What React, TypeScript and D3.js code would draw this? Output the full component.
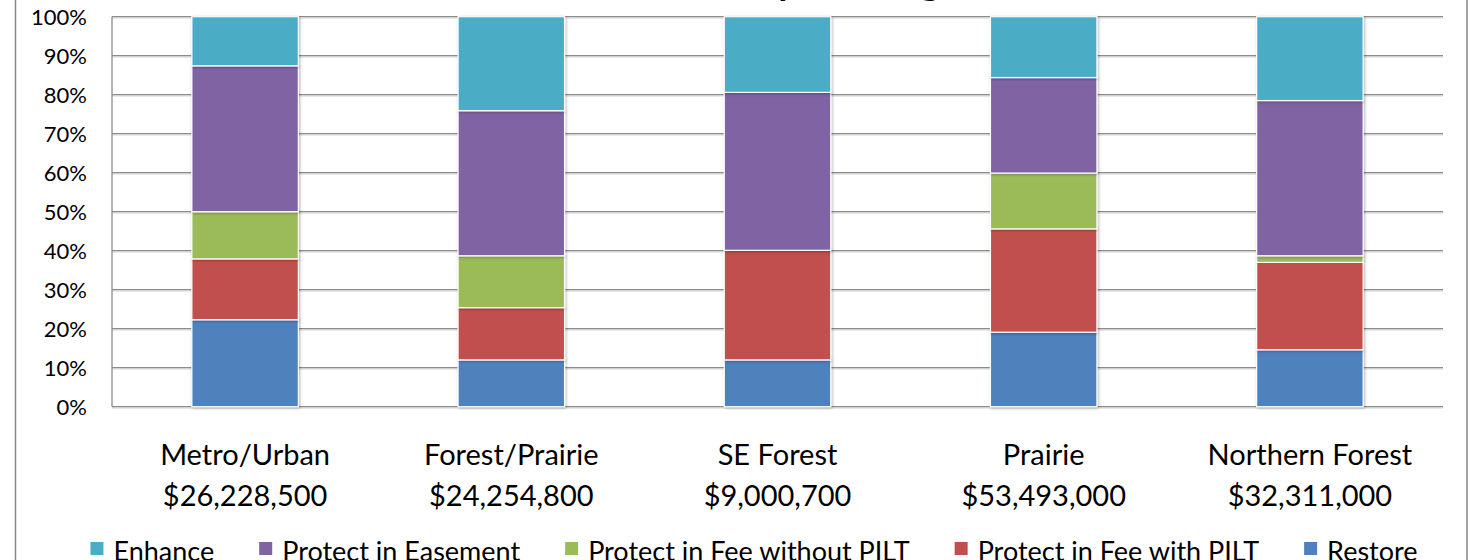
import React, { useEffect, useRef } from "react";
import * as d3 from "d3";

// regions (x axis) and their total dollars
const regions = ["Metro/Urban", "Forest/Prairie", "SE Forest", "Prairie", "Northern Forest"];
const totals = ["$26,228,500", "$24,254,800", "$9,000,700", "$53,493,000", "$32,311,000"];

// share of each activity per region, in percent
const restore = [22.3, 12.0, 12.0, 19.1, 14.6];
const feeWithPilt = [15.6, 13.4, 28.1, 26.5, 22.4];
const feeWithoutPilt = [12.1, 13.3, 0, 14.3, 1.7];
const easement = [37.4, 37.2, 40.5, 24.5, 39.8];
const enhance = [12.6, 24.1, 19.4, 15.6, 21.5];

// stacking order, bottom to top
const seriesKeys = ["Restore", "Protect in Fee with PILT", "Protect in Fee without PILT", "Protect in Easement", "Enhance"];
const seriesColors = ["#4F81BD", "#C0504D", "#9BBB59", "#8064A2", "#4BACC6"];

const yTicks = [0, 0.1, 0.2, 0.3, 0.4, 0.5, 0.6, 0.7, 0.8, 0.9, 1];

// only the descenders of the title show at the top edge
const title = "Percent of Activity Funding";

function App() {
  const ref = useRef<SVGSVGElement>(null);

  useEffect(() => {
    const width = 1469,
      height = 560;
    const left = 112,
      right = 1443,
      top = 16.7,
      bottom = 406.7;
    const font = "Lato, 'Open Sans', sans-serif";

    const svg = d3.select(ref.current);
    svg.selectAll("*").remove();
    svg.attr("width", width).attr("height", height);

    // soft shadow behind the bars
    const defs = svg.append("defs");
    defs.append("filter")
      .attr("id", "barShadow")
      .attr("x", "-20%").attr("y", "-5%").attr("width", "140%").attr("height", "110%")
      .append("feDropShadow")
      .attr("dx", 1).attr("dy", 1)
      .attr("stdDeviation", 1.6)
      .attr("flood-color", "#000")
      .attr("flood-opacity", 0.3);

    svg.append("rect").attr("width", width).attr("height", height).attr("fill", "#fff");

    // table for d3.stack
    const values = [restore, feeWithPilt, feeWithoutPilt, easement, enhance];
    const table = regions.map((r, i) => {
      const row: any = { region: r };
      seriesKeys.forEach((k, j) => (row[k] = values[j][i]));
      return row;
    });
    const stacked = d3.stack().keys(seriesKeys).offset(d3.stackOffsetExpand)(table);

    const x = d3.scaleBand().domain(regions).range([left, right]).paddingInner(0.6).paddingOuter(0.3);
    const y = d3.scaleLinear().domain([0, 1]).range([bottom, top]);
    const color = d3.scaleOrdinal<string>().domain(seriesKeys).range(seriesColors);

    // title, almost all above the visible frame
    svg.append("text")
      .attr("x", 482)
      .attr("y", -5)
      .style("font-family", font)
      .style("font-weight", "bold")
      .style("font-size", "38px")
      .text(title);

    // chart frame (left and right edges only are visible)
    svg.append("line").attr("x1", 15.5).attr("x2", 15.5).attr("y1", 0).attr("y2", height)
      .attr("stroke", "#868686").attr("stroke-width", 1.5);
    svg.append("line").attr("x1", 1467).attr("x2", 1467).attr("y1", 0).attr("y2", height)
      .attr("stroke", "#868686").attr("stroke-width", 1.5);

    // gridlines
    const grid = svg.append("g");
    grid.selectAll("line.shadow")
      .data(yTicks)
      .join("line")
      .attr("class", "shadow")
      .attr("x1", left).attr("x2", right)
      .attr("y1", (d) => y(d) + 1.3).attr("y2", (d) => y(d) + 1.3)
      .attr("stroke", "#d4d4d4").attr("stroke-width", 1);
    grid.selectAll("line.main")
      .data(yTicks)
      .join("line")
      .attr("class", "main")
      .attr("x1", left).attr("x2", right)
      .attr("y1", (d) => y(d)).attr("y2", (d) => y(d))
      .attr("stroke", "#8c8c8c").attr("stroke-width", 1.3);

    // value axis line
    svg.append("line").attr("x1", left).attr("x2", left).attr("y1", top).attr("y2", bottom)
      .attr("stroke", "#8c8c8c").attr("stroke-width", 1.3);

    // y tick labels
    svg.append("g")
      .selectAll("text")
      .data(yTicks)
      .join("text")
      .attr("x", 87)
      .attr("y", (d) => y(d))
      .attr("dy", "0.36em")
      .attr("text-anchor", "end")
      .style("font-family", font)
      .style("font-size", "22px")
      .attr("fill", "#000")
      .text((d) => d3.format(".0%")(d));

    // stacked bars
    svg.append("g")
      .selectAll("g")
      .data(stacked)
      .join("g")
      .attr("fill", (d) => color(d.key))
      .selectAll("rect")
      .data((d) => d.filter((p) => p[1] - p[0] > 0))
      .join("rect")
      .attr("x", (d: any) => x(d.data.region)!)
      .attr("width", x.bandwidth())
      .attr("y", (d) => y(d[1]))
      .attr("height", (d) => y(d[0]) - y(d[1]))
      .attr("stroke", "#fff")
      .attr("stroke-width", 1.2)
      .attr("filter", "url(#barShadow)");

    // category labels (two lines)
    const cat = svg.append("g")
      .selectAll("text")
      .data(regions)
      .join("text")
      .attr("text-anchor", "middle")
      .style("font-family", font)
      .style("font-size", "29px")
      .attr("fill", "#000");
    cat.append("tspan")
      .attr("x", (d) => x(d)! + x.bandwidth() / 2)
      .attr("y", 465)
      .text((d) => d);
    cat.append("tspan")
      .attr("x", (d) => x(d)! + x.bandwidth() / 2)
      .attr("y", 506)
      .text((d, i) => totals[i]);

    // legend, in reverse stack order, laid out by measured text width
    const legendKeys = seriesKeys.slice().reverse();
    const legend = svg.append("g");
    const items = legend.selectAll("g")
      .data(legendKeys)
      .join("g");
    items.append("rect")
      .attr("width", 13).attr("height", 13)
      .attr("y", 542)
      .attr("fill", (d) => color(d));
    items.append("text")
      .attr("x", 23)
      .attr("y", 561)
      .style("font-family", font)
      .style("font-size", "27px")
      .attr("fill", "#000")
      .text((d) => d);

    const gap = 45;
    const widths: number[] = [];
    items.each(function () {
      const t = d3.select(this).select("text").node() as SVGTextElement;
      widths.push(23 + t.getComputedTextLength());
    });
    const total = d3.sum(widths) + gap * (widths.length - 1);
    let cursor = 754 - total / 2;
    items.attr("transform", (d, i) => {
      const pos = cursor;
      cursor += widths[i] + gap;
      return `translate(${pos},0)`;
    });
  }, []);

  return (
    <div>
      <svg ref={ref} style={{ position: "absolute", left: 0, top: 0, display: "block" }}></svg>
    </div>
  );
}

export default App;
